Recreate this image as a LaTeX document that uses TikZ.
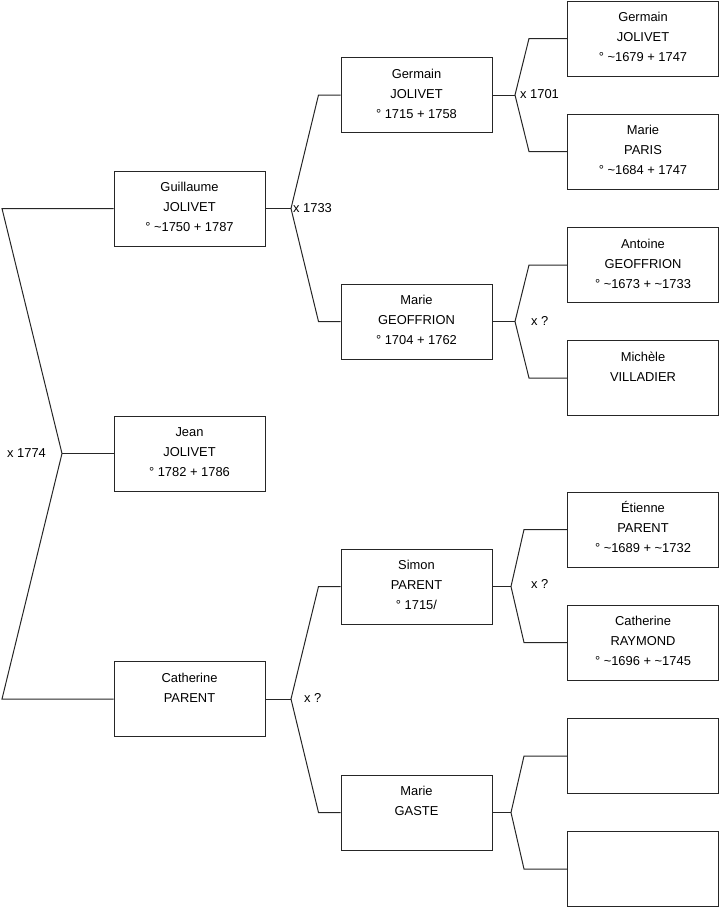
\documentclass[tikz,border=0pt]{standalone}
\usepackage{fontspec}
\setmainfont{Liberation Sans}
\usetikzlibrary{calc}
\newcommand\pers[1]{\parbox[c][75pt][t]{151pt}{\centering\rule{0pt}{20.8pt}#1}}
\begin{document}
\begin{tikzpicture}[x=1pt,y=-1pt,
  box/.style={draw=black!85, line width=1pt, inner sep=0pt, minimum width=151pt, minimum height=75pt,
    font=\fontsize{12.9}{20}\selectfont},
  link/.style={draw=black!85, line width=1pt},
  lab/.style={anchor=west, inner sep=0pt, font=\fontsize{12.9}{20}\selectfont}]
\useasboundingbox (0,0) rectangle (719,908);
% generation 1
\node[box] (g1a) at (189.5,208.5) {\pers{Guillaume\\JOLIVET\\° \textasciitilde1750 + 1787}};
\node[box] (g1b) at (189.5,453.5) {\pers{Jean\\JOLIVET\\° 1782 + 1786}};
\node[box] (g1c) at (189.5,699) {\pers{Catherine\\PARENT}};
% generation 2
\node[box] (g2a) at (416.5,95) {\pers{Germain\\JOLIVET\\° 1715 + 1758}};
\node[box] (g2b) at (416.5,321.5) {\pers{Marie\\GEOFFRION\\° 1704 + 1762}};
\node[box] (g2c) at (416.5,586.5) {\pers{Simon\\PARENT\\° 1715/}};
\node[box] (g2d) at (416.5,812.5) {\pers{Marie\\GASTE}};
% generation 3
\node[box] (g3a) at (643,38.5) {\pers{Germain\\JOLIVET\\° \textasciitilde1679 + 1747}};
\node[box] (g3b) at (643,151.5) {\pers{Marie\\PARIS\\° \textasciitilde1684 + 1747}};
\node[box] (g3c) at (643,265) {\pers{Antoine\\GEOFFRION\\° \textasciitilde1673 + \textasciitilde1733}};
\node[box] (g3d) at (643,378) {\pers{Michèle\\VILLADIER}};
\node[box] (g3e) at (643,529.5) {\pers{Étienne\\PARENT\\° \textasciitilde1689 + \textasciitilde1732}};
\node[box] (g3f) at (643,642.5) {\pers{Catherine\\RAYMOND\\° \textasciitilde1696 + \textasciitilde1745}};
\node[box] (g3g) at (643,756) {\pers{}};
\node[box] (g3h) at (643,869) {\pers{}};
% joints
\coordinate (r) at (62,453.5);
\coordinate (rt) at (2,208.5);
\coordinate (rb) at (2,699);
\coordinate (j1) at (291,208.5);
\coordinate (j2) at (291,699);
\coordinate (j3) at (515,95);
\coordinate (j4) at (515,321.5);
\coordinate (j5) at (511,586.5);
\coordinate (j6) at (511,812.5);
% connectors
\draw[link] (g1a.west) -- (rt) -- (r) -- (rb) -- (g1c.west);
\draw[link] (r) -- (g1b.west);
\draw[link] (g1a.east) -- (j1);
\draw[link] (g2a.west) -- ++(-22,0) -- (j1) -- ($(g2b.west)+(-22,0)$) -- (g2b.west);
\draw[link] (g1c.east) -- (j2);
\draw[link] (g2c.west) -- ++(-22,0) -- (j2) -- ($(g2d.west)+(-22,0)$) -- (g2d.west);
\draw[link] (g2a.east) -- (j3);
\draw[link] (g3a.west) -- ++(-38,0) -- (j3) -- ($(g3b.west)+(-38,0)$) -- (g3b.west);
\draw[link] (g2b.east) -- (j4);
\draw[link] (g3c.west) -- ++(-38,0) -- (j4) -- ($(g3d.west)+(-38,0)$) -- (g3d.west);
\draw[link] (g2c.east) -- (j5);
\draw[link] (g3e.west) -- ++(-43,0) -- (j5) -- ($(g3f.west)+(-43,0)$) -- (g3f.west);
\draw[link] (g2d.east) -- (j6);
\draw[link] (g3g.west) -- ++(-43,0) -- (j6) -- ($(g3h.west)+(-43,0)$) -- (g3h.west);
% labels
\node[lab] (l1) at (7,453) {x 1774};
\node[lab] (l2) at (293,208) {x 1733};
\node[lab] (l3) at (520,94) {x 1701};
\node[lab] (l4) at (531,321) {x ?};
\node[lab] (l5) at (531,584) {x ?};
\node[lab] (l6) at (304,697.5) {x ?};
\end{tikzpicture}
\end{document}
